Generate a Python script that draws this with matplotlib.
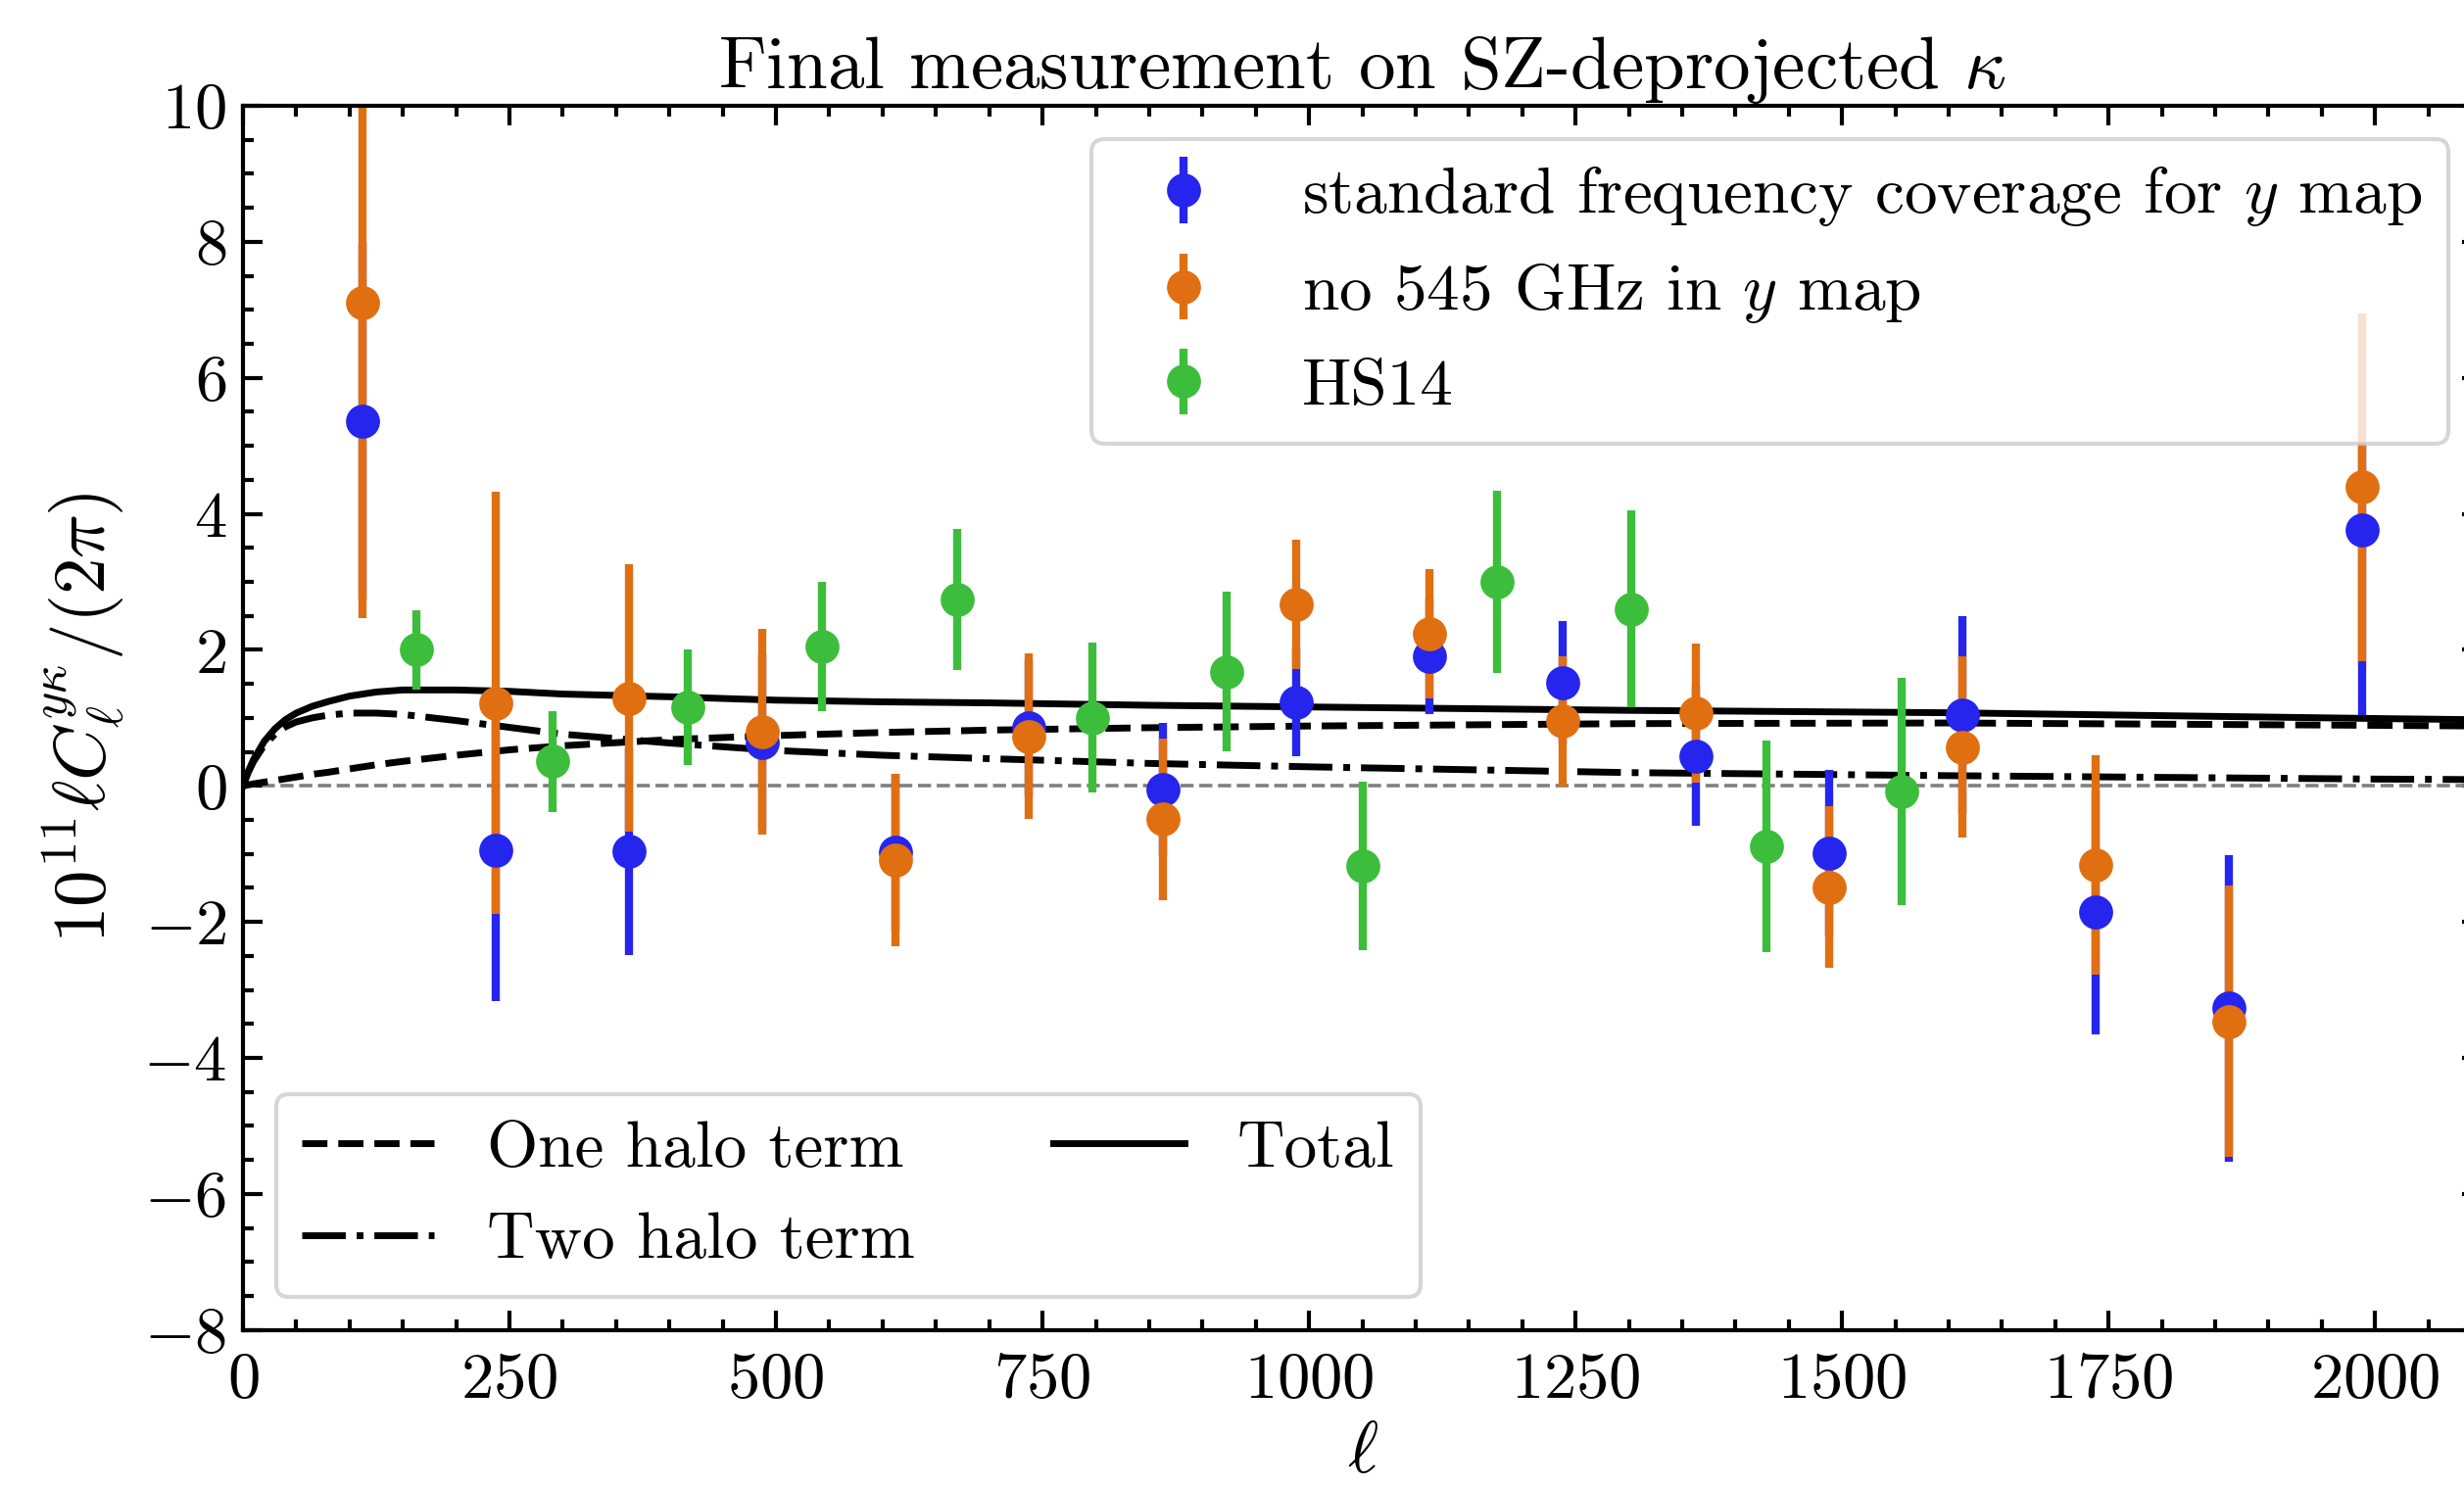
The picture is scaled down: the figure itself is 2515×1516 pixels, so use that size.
import numpy as np
import matplotlib
matplotlib.use('Agg')
import matplotlib.pyplot as plt
from matplotlib.ticker import MultipleLocator

plt.rcParams['font.family'] = 'serif'
plt.rcParams['font.serif'] = ['cmr10']
plt.rcParams['mathtext.fontset'] = 'cm'
plt.rcParams['axes.formatter.use_mathtext'] = True

# binned measurements (ell bin centres)
ell_bins = [112.5, 237.5, 362.5, 487.5, 612.5, 737.5, 862.5, 987.5,
            1112.5, 1237.5, 1362.5, 1487.5, 1612.5, 1737.5, 1862.5, 1987.5]

std_vals = [5.36, -0.94, -0.965, 0.64, -0.975, 0.85, -0.05, 1.23,
            1.91, 1.52, 0.44, -0.99, 1.04, -1.86, -3.27, 3.77]
std_errs = [2.62, 2.22, 1.52, 1.3, 1.15, 1.0, 0.98, 0.80,
            0.85, 0.91, 1.03, 1.22, 1.45, 1.79, 2.25, 2.73]

no545_vals = [7.11, 1.22, 1.29, 0.80, -1.095, 0.73, -0.49, 2.67,
              2.23, 0.95, 1.07, -1.49, 0.57, -1.16, -3.46, 4.39]
no545_errs = [4.65, 3.1, 1.97, 1.51, 1.27, 1.22, 1.19, 0.95,
              0.95, 0.96, 1.02, 1.19, 1.33, 1.61, 2.0, 2.55]

# Hill & Spergel 2014
ell_hs14 = [163, 290, 417, 543, 670, 797, 923, 1050, 1176, 1302, 1429, 1556]
hs14_vals = [2.0, 0.36, 1.16, 2.05, 2.74, 1.0, 1.68, -1.18, 3.0, 2.6, -0.89, -0.08]
hs14_errs = [0.58, 0.745, 0.85, 0.95, 1.04, 1.1, 1.17, 1.24, 1.34, 1.45, 1.56, 1.67]

# halo model curves
ell_model = [0, 5, 10, 20, 30, 40, 50, 65, 80, 100, 125, 150, 200, 250, 300,
             400, 500, 600, 700, 850, 1000, 1300, 1600, 2000, 2100]
one_halo = [0, 0.015, 0.03, 0.055, 0.08, 0.105, 0.13, 0.17, 0.2, 0.25, 0.31, 0.36,
            0.45, 0.53, 0.59, 0.68, 0.74, 0.785, 0.82, 0.855, 0.88, 0.915, 0.925,
            0.89, 0.88]
two_halo = [0, 0.2, 0.36, 0.6, 0.76, 0.87, 0.94, 1.0, 1.04, 1.07, 1.07, 1.05,
            0.96, 0.86, 0.76, 0.63, 0.52, 0.45, 0.40, 0.33, 0.28, 0.195, 0.15,
            0.10, 0.092]
total = np.array(one_halo) + np.array(two_halo)

c_blue = '#2525ee'
c_orange = '#e06f12'
c_green = '#3cbe3c'

fig = plt.figure(figsize=(12.575, 7.58), dpi=200)
ax = fig.add_axes([0.0986, 0.1044, 0.9086, 0.8244])

ax.axhline(0, color='gray', ls='--', lw=1.3)
l1, = ax.plot(ell_model, one_halo, 'k--', lw=2.5, label='One halo term')
l2, = ax.plot(ell_model, two_halo, 'k-.', lw=2.5, label='Two halo term')
l3, = ax.plot(ell_model, total, 'k-', lw=2.5, label='Total')

eb1 = ax.errorbar(ell_bins, std_vals, yerr=std_errs, fmt='o', color=c_blue,
                  ms=11.5, elinewidth=3, label='standard frequency coverage for $y$ map')
eb2 = ax.errorbar(ell_bins, no545_vals, yerr=no545_errs, fmt='o', color=c_orange,
                  ms=11.5, elinewidth=3, label='no 545 GHz in $y$ map')
eb3 = ax.errorbar(ell_hs14, hs14_vals, yerr=hs14_errs, fmt='o', color=c_green,
                  ms=11.5, elinewidth=3, label='HS14')

ax.set_xlim(0, 2100)
ax.set_ylim(-8, 10)
ax.xaxis.set_major_locator(MultipleLocator(250))
ax.xaxis.set_minor_locator(MultipleLocator(50))
ax.yaxis.set_major_locator(MultipleLocator(2))
ax.yaxis.set_minor_locator(MultipleLocator(0.5))
ax.tick_params(which='both', direction='in', top=True, right=True, width=1.5,
               labelsize=24)
ax.tick_params(which='major', length=7.2)
ax.tick_params(which='minor', length=3.8)
ax.tick_params(axis='x', pad=8)
ax.tick_params(axis='y', pad=6)
for s in ax.spines.values():
    s.set_linewidth(1.5)

ax.set_xlabel(r'$\ell$', fontsize=27, labelpad=4)
ax.set_ylabel(r'$10^{11}\ell C_\ell^{y\kappa}/(2\pi)$', fontsize=27, labelpad=6)
ax.set_title(r'Final measurement on SZ-deprojected $\kappa$', fontsize=27, pad=5)

leg1 = ax.legend(handles=[eb1, eb2, eb3], loc='upper right', fontsize=24.2)
leg1.get_frame().set_linewidth(1.5)
ax.add_artist(leg1)
leg2 = ax.legend(handles=[l1, l2, l3], loc='lower left', ncol=2, fontsize=24.2,
                 columnspacing=2.1)
leg2.get_frame().set_linewidth(1.5)

fig.savefig('out.png', dpi=200)
